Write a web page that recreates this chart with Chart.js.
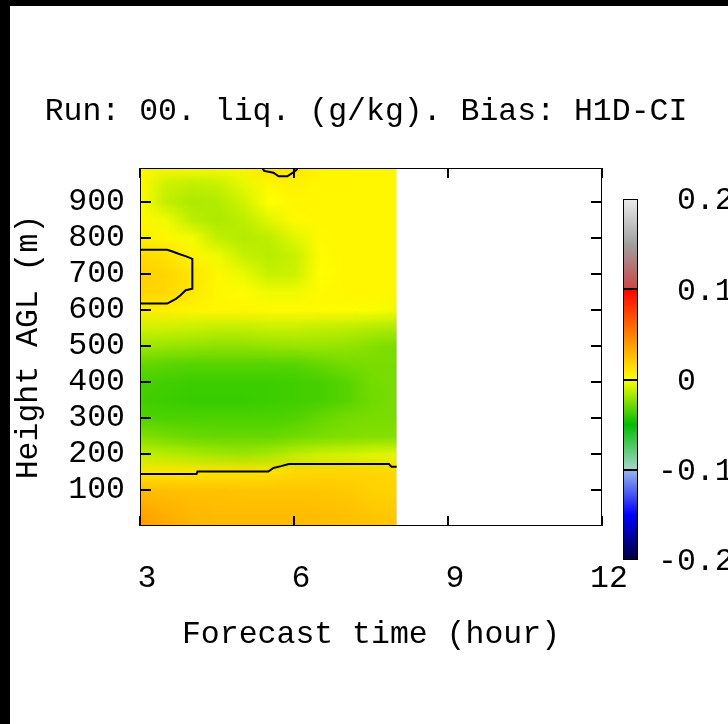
<!DOCTYPE html>
<html>
<head>
<meta charset="utf-8">
<title>Bias liq.</title>
<script src="https://cdn.jsdelivr.net/npm/chart.js@4.4.0/dist/chart.umd.min.js"></script>
<style>
  html, body { margin: 0; padding: 0; background: #000; }
  #quadro { position: absolute; left: 10px; top: 6px; width: 718px; height: 718px; background: #fff; }
</style>
</head>
<body>
<div id="quadro"><canvas id="grafBias" width="718" height="718"></canvas></div>
<script>
// ------------------------------------------------------
// 1. Dados (bias de liq. em g/kg)
// ------------------------------------------------------
const horas = [3, 3.5, 4, 4.5, 5, 5.5, 6, 6.5, 7, 7.5, 8];
const alturas = [1000, 950, 900, 850, 800, 750, 700, 650, 600, 550, 500,
                 450, 400, 350, 300, 250, 200, 150, 100, 50, 0];

const bias = [
  [ 0.004,  0.003,  0.002,  0.002,  0.004,  0.012,  0.011,  0.004,  0.003,  0.003,  0.003],
  [ 0.002, -0.010, -0.012, -0.011, -0.005,  0.003,  0.005,  0.003,  0.003,  0.003,  0.003],
  [ 0.001, -0.012, -0.016, -0.015, -0.009,  0.000,  0.003,  0.003,  0.003,  0.003,  0.003],
  [ 0.003, -0.003, -0.013, -0.016, -0.013, -0.006,  0.002,  0.003,  0.003,  0.003,  0.003],
  [ 0.006,  0.003, -0.002, -0.012, -0.015, -0.013, -0.006,  0.002,  0.003,  0.003,  0.003],
  [ 0.015,  0.011,  0.004, -0.003, -0.011, -0.014, -0.011,  0.001,  0.003,  0.003,  0.003],
  [ 0.018,  0.016,  0.010,  0.003, -0.004, -0.011, -0.010,  0.000,  0.003,  0.003,  0.003],
  [ 0.017,  0.015,  0.009,  0.003,  0.001, -0.003, -0.003,  0.002,  0.003,  0.003,  0.003],
  [ 0.007,  0.006,  0.004,  0.003,  0.003,  0.002,  0.002,  0.002,  0.001, -0.001, -0.003],
  [-0.009, -0.010, -0.011, -0.012, -0.012, -0.011, -0.011, -0.012, -0.013, -0.015, -0.016],
  [-0.019, -0.020, -0.021, -0.022, -0.022, -0.021, -0.020, -0.020, -0.021, -0.024, -0.026],
  [-0.030, -0.032, -0.033, -0.033, -0.033, -0.033, -0.033, -0.030, -0.027, -0.026, -0.026],
  [-0.036, -0.037, -0.038, -0.038, -0.038, -0.038, -0.037, -0.036, -0.033, -0.027, -0.026],
  [-0.037, -0.038, -0.039, -0.039, -0.039, -0.038, -0.037, -0.036, -0.033, -0.028, -0.026],
  [-0.034, -0.035, -0.035, -0.035, -0.035, -0.035, -0.034, -0.030, -0.027, -0.026, -0.026],
  [-0.024, -0.027, -0.029, -0.030, -0.030, -0.030, -0.028, -0.026, -0.025, -0.024, -0.024],
  [-0.012, -0.014, -0.016, -0.018, -0.019, -0.017, -0.013, -0.010, -0.009, -0.007, -0.006],
  [ 0.010,  0.010,  0.010,  0.011,  0.011,  0.012,  0.015,  0.016,  0.016,  0.016,  0.015],
  [ 0.026,  0.025,  0.024,  0.024,  0.023,  0.023,  0.023,  0.022,  0.021,  0.018,  0.017],
  [ 0.034,  0.030,  0.027,  0.026,  0.026,  0.026,  0.026,  0.025,  0.024,  0.021,  0.020],
  [ 0.040,  0.034,  0.029,  0.027,  0.027,  0.027,  0.027,  0.026,  0.025,  0.024,  0.023]
];

// contornos (hora, altura em m)
const contTopoHoras = [5.38, 5.42, 5.6, 5.7, 5.87, 5.98, 6.05, 6.07];
const contTopoAlturas = [993, 985, 980, 970, 970, 980, 988, 993];
const contMeioHoras = [3, 3.53, 3.62, 3.75, 3.9, 4.02, 4.02, 3.89, 3.79, 3.7, 3.53, 3];
const contMeioAlturas = [766, 766, 762, 755, 748, 741, 658, 654, 640, 630, 617, 617];
const contBaseHoras = [3, 4.1, 4.12, 5.5, 5.6, 5.75, 5.9, 7.85, 7.9, 8];
const contBaseAlturas = [144, 144, 151, 151, 161, 166, 172, 172, 164, 164];

const ticksX = [3, 6, 9, 12];
const ticksY = [100, 200, 300, 400, 500, 600, 700, 800, 900];

// paleta da barra de cores
const escalaValores = [-0.2, -0.15, -0.1, -0.1, -0.05, 0, 0.05, 0.1, 0.1, 0.15, 0.2];
const escalaCores = [
  [0, 0, 60], [0, 0, 255], [150, 185, 235], [165, 215, 205], [0, 190, 0],
  [255, 255, 0], [255, 128, 0], [255, 0, 0], [205, 70, 70], [160, 160, 160], [235, 235, 235]
];
const rotulosBarra = ["0.2", "0.1", "0", "-0.1", "-0.2"];
const valoresBarra = [0.2, 0.1, 0, -0.1, -0.2];

const FONTE = "'Liberation Mono', 'DejaVu Sans Mono', monospace";
const TAM = 31.5;

// ------------------------------------------------------
// 2. Cor de um valor
// ------------------------------------------------------
function corDoValor(v) {
  if (v <= escalaValores[0]) return escalaCores[0];
  for (let i = 1; i < escalaValores.length; i++) {
    if (v <= escalaValores[i]) {
      const a = escalaValores[i - 1], b = escalaValores[i];
      const t = b === a ? 1 : (v - a) / (b - a);
      const c0 = escalaCores[i - 1], c1 = escalaCores[i];
      return c0.map((c, k) => Math.round(c + (c1[k] - c) * t));
    }
  }
  return escalaCores[escalaCores.length - 1];
}

// ------------------------------------------------------
// 3. Plugin: mapa, moldura, titulo e barra de cores
// ------------------------------------------------------
const pluginMapa = {
  id: "mapa",
  beforeDatasetsDraw(chart) {
    const { ctx, chartArea, scales: { x, y } } = chart;
    const img = document.createElement("canvas");
    img.width = horas.length;
    img.height = alturas.length;
    const ictx = img.getContext("2d");
    const dados = ictx.createImageData(img.width, img.height);
    bias.forEach((linha, j) => linha.forEach((v, i) => {
      const c = corDoValor(v);
      const k = (j * img.width + i) * 4;
      dados.data[k] = c[0];
      dados.data[k + 1] = c[1];
      dados.data[k + 2] = c[2];
      dados.data[k + 3] = 255;
    }));
    ictx.putImageData(dados, 0, 0);

    const dh = (horas[1] - horas[0]) / 2;
    const dm = (alturas[0] - alturas[1]) / 2;
    const x0 = x.getPixelForValue(horas[0] - dh);
    const x1 = x.getPixelForValue(horas[horas.length - 1] + dh);
    const y0 = y.getPixelForValue(alturas[0] + dm);
    const y1 = y.getPixelForValue(alturas[alturas.length - 1] - dm);
    const cx0 = x.getPixelForValue(horas[0]);
    const cx1 = x.getPixelForValue(horas[horas.length - 1]);

    ctx.save();
    ctx.beginPath();
    ctx.rect(cx0, chartArea.top, cx1 - cx0, chartArea.bottom - chartArea.top);
    ctx.clip();
    ctx.imageSmoothingEnabled = true;
    ctx.imageSmoothingQuality = "low";
    ctx.drawImage(img, x0, y0, x1 - x0, y1 - y0);
    ctx.restore();
  },
  afterDatasetsDraw(chart) {
    const { ctx, chartArea: a, scales: { x, y } } = chart;
    ctx.save();
    ctx.strokeStyle = "#000";
    ctx.lineWidth = 1;
    ctx.strokeRect(a.left + 0.5, a.top + 0.5, a.right - a.left - 1, a.bottom - a.top - 1);
    ctx.lineWidth = 2;
    ctx.beginPath();
    ticksY.forEach(v => {
      const p = Math.round(y.getPixelForValue(v));
      ctx.moveTo(a.left, p); ctx.lineTo(a.left + 11, p);
      ctx.moveTo(a.right, p); ctx.lineTo(a.right - 11, p);
    });
    ticksX.forEach(v => {
      const p = Math.round(x.getPixelForValue(v));
      ctx.moveTo(p, a.bottom); ctx.lineTo(p, a.bottom - 10);
      ctx.moveTo(p, a.top); ctx.lineTo(p, a.top + 10);
    });
    ctx.stroke();
    ctx.restore();
  },
  afterDraw(chart) {
    const { ctx } = chart;
    ctx.save();
    ctx.font = `${TAM}px ${FONTE}`;
    ctx.fillStyle = "#000";
    ctx.textBaseline = "middle";
    ctx.textAlign = "center";
    ctx.fillText("Run: 00. liq. (g/kg). Bias: H1D-CI", 356, 106);

    // barra de cores
    const bx = 613, bw = 15, bTopo = 193, bBase = 554;
    const py = v => bTopo + (0.2 - v) / 0.4 * (bBase - bTopo);
    for (let p = bTopo; p < bBase; p++) {
      const v = 0.2 - (p + 0.5 - bTopo) / (bBase - bTopo) * 0.4;
      const c = corDoValor(v);
      ctx.fillStyle = `rgb(${c[0]},${c[1]},${c[2]})`;
      ctx.fillRect(bx, p, bw, 1);
    }
    ctx.strokeStyle = "#000";
    ctx.lineWidth = 1;
    ctx.strokeRect(bx + 0.5, bTopo + 0.5, bw - 1, bBase - bTopo - 1);
    ctx.lineWidth = 2;
    ctx.beginPath();
    [0.1, 0, -0.1].forEach(v => {
      const p = Math.round(py(v));
      ctx.moveTo(bx, p); ctx.lineTo(bx + bw, p);
    });
    ctx.stroke();

    ctx.fillStyle = "#000";
    ctx.textAlign = "left";
    const menos = ctx.measureText("-").width;
    rotulosBarra.forEach((r, i) => {
      const xr = r.startsWith("-") ? 648 : 648 + menos;
      ctx.fillText(r, xr, py(valoresBarra[i]) + 2);
    });
    ctx.restore();
  }
};

// ------------------------------------------------------
// 4. Grafico
// ------------------------------------------------------
Chart.defaults.font.family = FONTE;
Chart.defaults.font.size = TAM;
Chart.defaults.color = "#000";

function linhaContorno(hs, ms) {
  return {
    data: hs.map((h, i) => ({ x: h, y: ms[i] })),
    showLine: true,
    borderColor: "#000",
    borderWidth: 2,
    pointRadius: 0,
    fill: false
  };
}

const graficoBias = new Chart(document.getElementById("grafBias"), {
  type: "scatter",
  data: {
    datasets: [
      linhaContorno(contTopoHoras, contTopoAlturas),
      linhaContorno(contMeioHoras, contMeioAlturas),
      linhaContorno(contBaseHoras, contBaseAlturas)
    ]
  },
  options: {
    responsive: false,
    animation: false,
    layout: { padding: { top: 162, right: 126, bottom: 0, left: 0 } },
    plugins: {
      legend: { display: false },
      tooltip: { enabled: false }
    },
    scales: {
      x: {
        type: "linear",
        min: 3,
        max: 12,
        afterBuildTicks: s => { s.ticks = ticksX.map(v => ({ value: v })); },
        afterFit: s => { s.height = 198; },
        grid: { display: false, drawTicks: false },
        border: { display: false },
        ticks: {
          autoSkip: false,
          maxRotation: 0,
          padding: 37,
          labelOffset: 7,
          font: { size: TAM, lineHeight: 1 },
          callback: v => String(v)
        },
        title: {
          display: true,
          text: "Forecast time (hour)",
          font: { size: TAM, lineHeight: 1 },
          padding: { top: 0, bottom: 74 }
        }
      },
      y: {
        type: "linear",
        min: 0,
        max: 993,
        afterBuildTicks: s => { s.ticks = ticksY.map(v => ({ value: v })); },
        afterFit: s => { s.width = 130; },
        grid: { display: false, drawTicks: false },
        border: { display: false },
        ticks: {
          autoSkip: false,
          padding: 15,
          font: { size: TAM, lineHeight: 1 },
          callback: v => String(v)
        },
        title: {
          display: true,
          text: "Height AGL (m)",
          font: { size: TAM, lineHeight: 1 },
          padding: { top: 3, bottom: 0 }
        }
      }
    }
  },
  plugins: [pluginMapa]
});
</script>
</body>
</html>
